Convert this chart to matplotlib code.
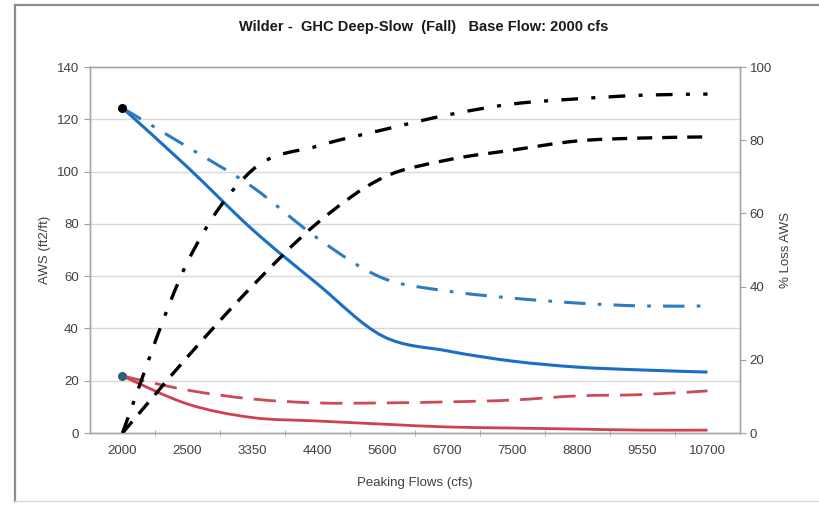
import matplotlib
matplotlib.use("Agg")
import matplotlib.pyplot as plt
from matplotlib.lines import Line2D
from matplotlib.path import Path
from matplotlib.patches import PathPatch
import numpy as np

plt.rcParams['font.family'] = ['Liberation Sans Narrow', 'Liberation Sans', 'DejaVu Sans']

categories = ["2000", "2500", "3350", "4400", "5600", "6700", "7500", "8800", "9550", "10700"]

# Left axis (AWS ft2/ft)
aws_blue = [124.3, 101.7, 77.8, 57.0, 37.1, 31.4, 27.5, 25.2, 24.1, 23.3]
aws_blue_dd = [124.3, 109.4, 94.1, 74.5, 59.3, 54.3, 51.6, 49.7, 48.6, 48.6]
aws_red = [21.8, 11.1, 5.9, 4.6, 3.4, 2.3, 1.9, 1.5, 1.1, 1.1]
aws_red_dash = [21.8, 16.4, 13.0, 11.5, 11.5, 11.9, 12.6, 14.2, 14.7, 16.1]

# Right axis (% Loss AWS)
loss_dd = [0.0, 46.7, 71.9, 78.4, 82.8, 86.9, 89.9, 91.3, 92.3, 92.6]
loss_dash = [0.0, 20.8, 40.2, 57.4, 69.7, 74.6, 77.3, 79.8, 80.6, 80.9]

x = np.arange(len(categories))


def smooth_line(ax, xs, ys, **kw):
    """Excel-style smoothed line drawn as a cubic Bezier path."""
    pts = np.column_stack([xs, ys]).astype(float)
    n = len(pts)
    verts = [pts[0]]
    codes = [Path.MOVETO]
    for i in range(n - 1):
        p0 = pts[i - 1] if i > 0 else pts[i]
        p1 = pts[i]
        p2 = pts[i + 1]
        p3 = pts[i + 2] if i + 2 < n else pts[i + 1]
        c1 = p1 + (p2 - p0) / 6.0
        c2 = p2 - (p3 - p1) / 6.0
        verts += [c1, c2, p2]
        codes += [Path.CURVE4] * 3
    patch = PathPatch(Path(verts, codes), facecolor='none', **kw)
    ax.add_patch(patch)
    return patch


fig = plt.figure(figsize=(8.2, 5.05), dpi=100)
fig.patch.set_facecolor('white')

# outer chart border
fig.add_artist(Line2D([15/820, 15/820], [1 - 5/505, 1 - 501/505], transform=fig.transFigure, color='#8c8c8c', lw=1.6))
fig.add_artist(Line2D([15/820, 1.0], [1 - 5/505, 1 - 5/505], transform=fig.transFigure, color='#8c8c8c', lw=1.6))
fig.add_artist(Line2D([15/820, 1.0], [1 - 501/505, 1 - 501/505], transform=fig.transFigure, color='#d9d9d9', lw=1.0))

ax = fig.add_axes([90/820, 72/505, 650/820, 366/505])
ax2 = ax.twinx()

ax.set_xlim(-0.5, len(categories) - 0.5)
ax.set_ylim(0, 140)
ax2.set_ylim(0, 100)

ax.set_yticks(np.arange(0, 141, 20))
ax2.set_yticks(np.arange(0, 101, 20))
for yv in np.arange(20, 140, 20):
    ax.axhline(yv, color='#d9d9d9', lw=1.0, zorder=0)

ax.set_xticks(x)
ax.set_xticklabels(categories)
ax.set_xticks(np.arange(0.5, len(categories) - 0.5, 1.0), minor=True)
ax.tick_params(axis='x', which='major', length=0, labelsize=9.5, colors='#404040', pad=9)
ax.tick_params(axis='x', which='minor', length=4, direction='inout', color='#a0a0a0')
ax.tick_params(axis='y', length=4, direction='out', color='#a0a0a0', labelsize=9.5, labelcolor='#404040', pad=4)
ax2.tick_params(axis='y', length=4, direction='out', color='#a0a0a0', labelsize=9.5, labelcolor='#404040', pad=3)

for a in (ax, ax2):
    for s in a.spines.values():
        s.set_color('#a6a6a6')
        s.set_linewidth(1.0)

# left axis lines
smooth_line(ax, x, aws_blue, edgecolor='#1a6fc4', lw=2.2, zorder=5)
smooth_line(ax, x, aws_blue_dd, edgecolor='#2e7cc0', lw=2.2, linestyle=(0, (7, 4, 1.2, 4)), zorder=5)
smooth_line(ax, x, aws_red, edgecolor='#d0404e', lw=2.0, zorder=5)
smooth_line(ax, x, aws_red_dash, edgecolor='#cc4a55', lw=2.0, linestyle=(0, (8, 4)), zorder=5)

# right axis lines
smooth_line(ax2, x, loss_dd, edgecolor='black', lw=2.4, linestyle=(0, (5, 4, 1.2, 4)), zorder=5)
smooth_line(ax2, x, loss_dash, edgecolor='black', lw=2.4, linestyle=(0, (4.5, 3)), zorder=5)

# markers at first points
ax.plot([x[0]], [aws_blue[0]], 'o', color='black', ms=5.5, zorder=6)
ax.plot([x[0]], [aws_red[0]], 'o', color='#2f5d7c', ms=5.5, zorder=6)

ax.set_xlabel('Peaking Flows (cfs)', fontsize=9.5, color='#404040', labelpad=14)
ax.set_ylabel('AWS (ft2/ft)', fontsize=9.5, color='#404040', labelpad=4)
ax2.set_ylabel('% Loss AWS', fontsize=9.5, color='#404040', labelpad=6)

fig.text(424/820, 1 - 27/505, 'Wilder -  GHC Deep-Slow  (Fall)   Base Flow: 2000 cfs',
         ha='center', va='center', fontsize=10.5, fontweight='bold', color='#1a1a1a')

fig.savefig('out.png', dpi=100, facecolor='white')
